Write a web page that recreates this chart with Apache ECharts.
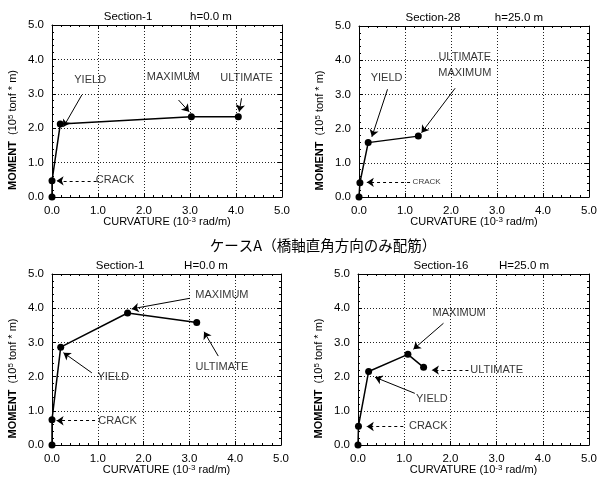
<!DOCTYPE html>
<html>
<head>
<meta charset="utf-8">
<script src="https://cdn.jsdelivr.net/npm/echarts@6/dist/echarts.min.js"></script>
<style>
  html, body { margin: 0; padding: 0; background: #fff; }
  #main { width: 612px; height: 481px; }
</style>
</head>
<body>
<div id="main"></div>
<script>
// 曲率 (10^-3 rad/m) と モーメント (10^5 tonf*m)  原点, CRACK, YIELD, MAXIMUM, ULTIMATE
var curvA1 = [0, 0, 0.18, 3.03, 4.05];
var momentA1 = [0, 0.47, 2.12, 2.33, 2.33];
var curvA28 = [0, 0.02, 0.2, 1.29];
var momentA28 = [0, 0.42, 1.59, 1.78];
var curvB1 = [0, 0, 0.19, 1.65, 3.16];
var momentB1 = [0, 0.74, 2.86, 3.86, 3.58];
var curvB16 = [0, 0.01, 0.23, 1.08, 1.42];
var momentB16 = [0, 0.55, 2.15, 2.65, 2.27];
var tickLabels = ['0.0', '1.0', '2.0', '3.0', '4.0', '5.0'];

var FONT = 'Liberation Sans, Arial, sans-serif';

// 注記 (データ座標): 文字位置と矢印
var panels = [{
    left: 52, top: 25, width: 230, height: 172,
    title: 'Section-1', h: 'h=0.0 m', titleX: [128, 211],
    x: curvA1, y: momentA1,
    notes: [
      { text: 'YIELD', at: [0.83, 3.40], from: [0.65, 2.97], to: [0.25, 2.04] },
      { text: 'MAXIMUM', at: [2.64, 3.48], from: [2.75, 2.82], to: [2.98, 2.48] },
      { text: 'ULTIMATE', at: [4.23, 3.45], from: [4.12, 2.87], to: [4.07, 2.48] },
      { text: 'CRACK', at: [1.37, 0.49], from: [0.97, 0.47], to: [0.10, 0.47], dash: true }
    ]
  },
  {
    left: 359, top: 26, width: 230, height: 171,
    title: 'Section-28', h: 'h=25.0 m', titleX: [433, 519],
    x: curvA28, y: momentA28,
    notes: [
      { text: 'YIELD', at: [0.60, 3.47], from: [0.62, 3.15], to: [0.28, 1.76] },
      { text: 'ULTIMATE', at: [2.30, 4.10] },
      { text: 'MAXIMUM', at: [2.30, 3.62], from: [2.09, 3.18], to: [1.36, 1.88] },
      { text: 'CRACK', at: [1.47, 0.45], from: [1.11, 0.43], to: [0.17, 0.43], dash: true, size: 8 }
    ]
  },
  {
    left: 52, top: 274, width: 229, height: 171,
    title: 'Section-1', h: 'H=0.0 m', titleX: [120, 206],
    x: curvB1, y: momentB1,
    notes: [
      { text: 'MAXIMUM', at: [3.71, 4.39], from: [3.01, 4.29], to: [1.74, 3.98] },
      { text: 'ULTIMATE', at: [3.71, 2.27], from: [3.63, 2.60], to: [3.32, 3.31] },
      { text: 'YIELD', at: [1.34, 2.00], from: [0.87, 2.11], to: [0.25, 2.70] },
      { text: 'CRACK', at: [1.43, 0.71], from: [0.94, 0.71], to: [0.10, 0.71], dash: true }
    ]
  },
  {
    left: 358, top: 274, width: 231, height: 171,
    title: 'Section-16', h: 'H=25.0 m', titleX: [441, 524],
    x: curvB16, y: momentB16,
    notes: [
      { text: 'MAXIMUM', at: [2.19, 3.86], from: [1.85, 3.56], to: [1.20, 2.80] },
      { text: 'ULTIMATE', at: [3.00, 2.19], from: [2.39, 2.19], to: [1.60, 2.19], dash: true },
      { text: 'YIELD', at: [1.60, 1.34], from: [1.23, 1.51], to: [0.37, 1.98] },
      { text: 'CRACK', at: [1.52, 0.56], from: [0.98, 0.54], to: [0.19, 0.54], dash: true }
    ]
  }
];

var supRich = {
  n: { fontSize: 11, fontFamily: FONT, color: '#000', lineHeight: 13 },
  b: { fontSize: 11, fontFamily: FONT, color: '#000', fontWeight: 'bold', lineHeight: 13 },
  s: { fontSize: 8, fontFamily: FONT, color: '#000', verticalAlign: 'top', lineHeight: 13 }
};

function makeAxis(i, pos, main) {
  return {
    type: 'value',
    gridIndex: i,
    position: pos,
    min: 0,
    max: 5,
    interval: 1,
    axisLine: { show: true, onZero: false, lineStyle: { color: '#000', width: 1 } },
    axisTick: { show: true, inside: true, length: 4, lineStyle: { color: '#000' } },
    minorTick: { show: true, splitNumber: 5, length: 2, lineStyle: { color: '#000' } },
    axisLabel: {
      show: main,
      margin: 8,
      fontSize: 11.5,
      fontFamily: FONT,
      color: '#000',
      formatter: function (v) { return tickLabels[Math.round(v)]; }
    },
    splitLine: { show: main, lineStyle: { color: '#222', type: [1, 2], width: 1 } }
  };
}

var grids = [], xAxes = [], yAxes = [], series = [], graphics = [];

panels.forEach(function (p, i) {
  grids.push({ left: p.left, top: p.top, width: p.width, height: p.height });
  xAxes.push(makeAxis(i, 'bottom', true));
  xAxes.push(makeAxis(i, 'top', false));
  yAxes.push(makeAxis(i, 'left', true));
  yAxes.push(makeAxis(i, 'right', false));

  var arrows = [];
  var labels = [];
  p.notes.forEach(function (n) {
    labels.push({ value: n.at, name: n.text, label: { fontSize: n.size || 11 } });
    if (n.from) {
      arrows.push([
        { coord: n.from, lineStyle: { type: n.dash ? [3, 3] : 'solid' } },
        { coord: n.to }
      ]);
    }
  });

  // 曲線本体
  series.push({
    type: 'line',
    xAxisIndex: 2 * i,
    yAxisIndex: 2 * i,
    data: p.x.map(function (v, k) { return [v, p.y[k]]; }),
    symbol: 'circle',
    symbolSize: 7,
    itemStyle: { color: '#000' },
    lineStyle: { color: '#000', width: 1.5 },
    silent: true,
    markLine: {
      silent: true,
      symbol: ['none', 'arrow'],
      symbolSize: 7,
      label: { show: false },
      lineStyle: { color: '#000', width: 1 },
      data: arrows
    }
  });

  // 注記ラベル
  series.push({
    type: 'scatter',
    xAxisIndex: 2 * i,
    yAxisIndex: 2 * i,
    symbolSize: 1,
    itemStyle: { color: 'rgba(0,0,0,0)' },
    silent: true,
    label: { show: true, position: 'inside', formatter: '{b}', fontFamily: FONT, color: '#000' },
    data: labels
  });

  var ty = p.top - 8;
  graphics.push({
    type: 'text', x: p.titleX[0], y: ty,
    style: { text: p.title, font: '11.5px ' + FONT, fill: '#000', align: 'center', verticalAlign: 'middle' }
  });
  graphics.push({
    type: 'text', x: p.titleX[1], y: ty,
    style: { text: p.h, font: '11.5px ' + FONT, fill: '#000', align: 'center', verticalAlign: 'middle' }
  });
  // y軸名
  graphics.push({
    type: 'text',
    x: p.left - 39,
    y: p.top + p.height / 2 + 19,
    rotation: Math.PI / 2,
    style: {
      text: '{b|MOMENT}{n|  (10}{s|5}{n| tonf * m)}',
      rich: supRich,
      align: 'center',
      verticalAlign: 'middle'
    }
  });
  // x軸名
  graphics.push({
    type: 'text',
    x: p.left + p.width / 2,
    y: p.top + p.height + 25,
    style: {
      text: '{n|CURVATURE (10}{s|-3}{n| rad/m)}',
      rich: supRich,
      align: 'center',
      verticalAlign: 'middle'
    }
  });
});

graphics.push({
  type: 'text',
  x: 323,
  y: 245,
  style: {
    text: 'ケースA（橋軸直角方向のみ配筋）',
    font: '14.5px "Noto Sans CJK JP"',
    fill: '#000',
    align: 'center',
    verticalAlign: 'middle'
  }
});

var myChart = echarts.init(document.getElementById('main'));
myChart.setOption({
  animation: false,
  backgroundColor: '#fff',
  grid: grids,
  xAxis: xAxes,
  yAxis: yAxes,
  series: series,
  graphic: graphics
});
</script>
</body>
</html>
